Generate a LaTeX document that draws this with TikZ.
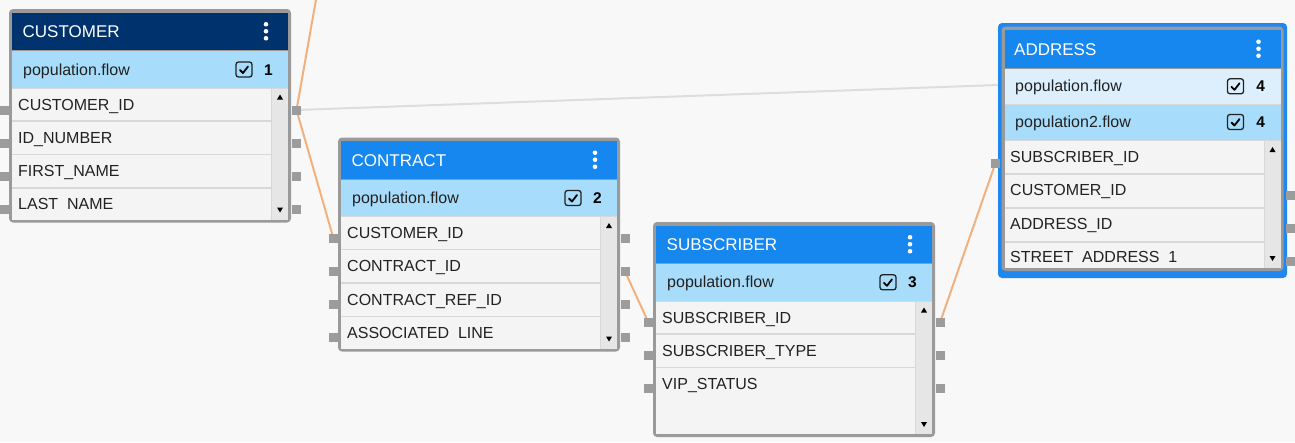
\documentclass[tikz,border=0pt]{standalone}
\usepackage{fontspec}
\setmainfont{Liberation Sans}
\definecolor{bgc}{HTML}{F8F8F8}
\definecolor{framegray}{HTML}{9A9A9A}
\definecolor{darkhdr}{HTML}{00326E}
\definecolor{bluehdr}{HTML}{1787F0}
\definecolor{subblue}{HTML}{A8DCFB}
\definecolor{palesub}{HTML}{DDEFFD}
\definecolor{rowbg}{HTML}{F4F4F4}
\definecolor{sepc}{HTML}{D8D8D8}
\definecolor{scrollc}{HTML}{E6E6E6}
\definecolor{portc}{HTML}{9C9C9C}
\definecolor{orangec}{HTML}{F2B07C}
\definecolor{linegray}{HTML}{DDDDDD}
\definecolor{selblue}{HTML}{1E88F0}
\definecolor{textc}{HTML}{222222}
\pgfdeclarelayer{bglayer}
\pgfdeclarelayer{linelayer}
\pgfsetlayers{bglayer,linelayer,main}
\tikzset{
 hdrtext/.style={anchor=base west, text=white, font=\fontsize{17}{20}\selectfont, inner sep=0},
 subtext/.style={anchor=base west, text=textc, font=\fontsize{16}{19}\selectfont, inner sep=0},
 rowtext/.style={anchor=base west, text=textc, font=\fontsize{16}{19}\selectfont, inner sep=0},
 numtext/.style={anchor=base, text=black, font=\fontsize{15.5}{18}\selectfont\bfseries, inner sep=0},
 port/.style={fill=portc, minimum size=9pt, inner sep=0, draw=none},
 orangeline/.style={draw=orangec, line width=2pt},
 grayline/.style={draw=linegray, line width=2pt},
}
% X Y H headercolor rowsTop
\newcommand\dbframe[5]{%
 \fill[framegray, rounded corners=4pt] (#1,#2) rectangle ++(282,#3);
 \fill[#4] (#1+3,#2+3.5) rectangle (#1+279,#2+41);
 \fill[subblue] (#1+3,#2+42) rectangle (#1+279,#5);
 \fill[rowbg] (#1+3,#5) rectangle (#1+279,#2+#3-3);
 \draw[sepc, line width=1pt] (#1+3,#5+0.5) -- (#1+279,#5+0.5);
 \fill[scrollc] (#1+262.5,#5+1) rectangle (#1+279,#2+#3-3);
 \draw[sepc, line width=0.8pt] (#1+262.5,#5+1) -- (#1+262.5,#2+#3-3);
 \foreach \dd in {-7,0,7} \fill[white] (#1+257,#2+22.25+\dd) circle[radius=2.3pt];
 \fill[black] (#1+268,#5+12) -- (#1+274,#5+12) -- (#1+271,#5+7) -- cycle;
 \fill[black] (#1+268,#2+#3-15) -- (#1+274,#2+#3-15) -- (#1+271,#2+#3-10) -- cycle;
}
\newcommand\chkbox[2]{%
 \draw[textc, line width=1.3pt, rounded corners=2.5pt] (#1,#2) rectangle ++(16,15);
 \draw[black, line width=1.8pt, line cap=round, line join=round] (#1+4,#2+8) -- (#1+7,#2+11) -- (#1+12,#2+4.5);
}
\newcommand\rowsep[2]{\draw[sepc, line width=1.5pt] (#1+3,#2) -- (#1+262.5,#2);}
\begin{document}
\begin{tikzpicture}[x=1pt,y=-1pt]
\useasboundingbox (0,0) rectangle (1295,442);
\begin{pgfonlayer}{bglayer}
\fill[bgc] (0,0) rectangle (1295,442);
\end{pgfonlayer}

% ---------- CUSTOMER ----------
\dbframe{9}{9}{213.5}{darkhdr}{87.5}
\node[hdrtext] (cusT) at (22.5,37.6) {CUSTOMER};
\node[subtext] (cusS) at (23,75) {population.flow};
\chkbox{236}{62}
\node[numtext] (cusN) at (268.5,75) {1};
\rowsep{9}{121}\rowsep{9}{154.5}\rowsep{9}{188}
\node[rowtext] (cusF1) at (18,110) {CUSTOMER\_ID};
\node[rowtext] (cusF2) at (18,143.3) {ID\_NUMBER};
\node[rowtext] (cusF3) at (18,176.6) {FIRST\_NAME};
\node[rowtext] (cusF4) at (18,209.9) {LAST\phantom{\_}NAME};
\foreach \i/\yy in {1/110,2/143.3,3/176.6,4/209.9}{
 \node[port] (cusL\i) at (4.5,\yy) {};
 \node[port] (cusR\i) at (296.5,\yy) {};
}

% ---------- CONTRACT ----------
\dbframe{338}{137.5}{214}{bluehdr}{216}
\node[hdrtext] (conT) at (351.5,166.1) {CONTRACT};
\node[subtext] (conS) at (352,203.5) {population.flow};
\chkbox{565}{190.5}
\node[numtext] (conN) at (597.5,203.5) {2};
\rowsep{338}{249.5}\rowsep{338}{283}\rowsep{338}{316.5}
\node[rowtext] (conF1) at (347,238.5) {CUSTOMER\_ID};
\node[rowtext] (conF2) at (347,271.8) {CONTRACT\_ID};
\node[rowtext] (conF3) at (347,305.1) {CONTRACT\_REF\_ID};
\node[rowtext] (conF4) at (347,338.4) {ASSOCIATED\phantom{\_}LINE};
\foreach \i/\yy in {1/238.5,2/271.5,3/304.5,4/337.5}{
 \node[port] (conL\i) at (333.5,\yy) {};
 \node[port] (conR\i) at (625,\yy) {};
}

% ---------- SUBSCRIBER ----------
\dbframe{653}{222}{215}{bluehdr}{300.5}
\node[hdrtext] (subT) at (666.5,250.4) {SUBSCRIBER};
\node[subtext] (subS) at (667,287.8) {population.flow};
\chkbox{880}{274.8}
\node[numtext] (subN) at (912.5,287.8) {3};
\rowsep{653}{334}\rowsep{653}{367.5}
\node[rowtext] (subF1) at (662,323) {SUBSCRIBER\_ID};
\node[rowtext] (subF2) at (662,356.3) {SUBSCRIBER\_TYPE};
\node[rowtext] (subF3) at (662,389.6) {VIP\_STATUS};
\foreach \i/\yy in {1/322.5,2/355.5,3/388.5}{
 \node[port] (subL\i) at (648.5,\yy) {};
 \node[port] (subR\i) at (940,\yy) {};
}

% ---------- ADDRESS ----------
\fill[selblue, rounded corners=4pt] (998,23) rectangle (1287,278);
\dbframe{1001.5}{26.5}{244.5}{bluehdr}{140}
\fill[palesub] (1004.5,68.5) rectangle (1280.5,104);
\draw[sepc, line width=1pt] (1004.5,104) -- (1280.5,104);
\node[hdrtext] (adrT) at (1014,55.1) {ADDRESS};
\node[subtext] (adrS1) at (1015,91.8) {population.flow};
\node[subtext] (adrS2) at (1015,127.5) {population2.flow};
\chkbox{1227.5}{78.8}
\chkbox{1227.5}{114.5}
\node[numtext] (adrN1) at (1260.7,91.8) {4};
\node[numtext] (adrN2) at (1260.7,127.5) {4};
\rowsep{1001.5}{174}\rowsep{1001.5}{208}\rowsep{1001.5}{242}
\node[rowtext] (adrF1) at (1010,162.5) {SUBSCRIBER\_ID};
\node[rowtext] (adrF2) at (1010,195.8) {CUSTOMER\_ID};
\node[rowtext] (adrF3) at (1010,229.1) {ADDRESS\_ID};
\node[rowtext] (adrF4) at (1010,262.4) {STREET\phantom{\_}ADDRESS\phantom{\_}1};
\node[port] (adrL1) at (995.5,163) {};
\foreach \i/\yy in {2/195,3/228,4/261}{
 \node[port] (adrR\i) at (1290,\yy) {};
}

% ---------- connectors ----------
\coordinate (topEnd) at (317.7,-10);
\coordinate (adrHid) at (1012,84.5);
\begin{pgfonlayer}{linelayer}
\draw[orangeline] (topEnd) -- (cusR1.center);
\draw[orangeline] (cusR1.center) -- (conL1.center);
\draw[grayline] (cusR1.center) -- (adrHid);
\draw[orangeline] (conR2.center) -- (subL1.center);
\draw[orangeline] (subR1.center) -- (adrL1.center);
\end{pgfonlayer}
\end{tikzpicture}
\end{document}
